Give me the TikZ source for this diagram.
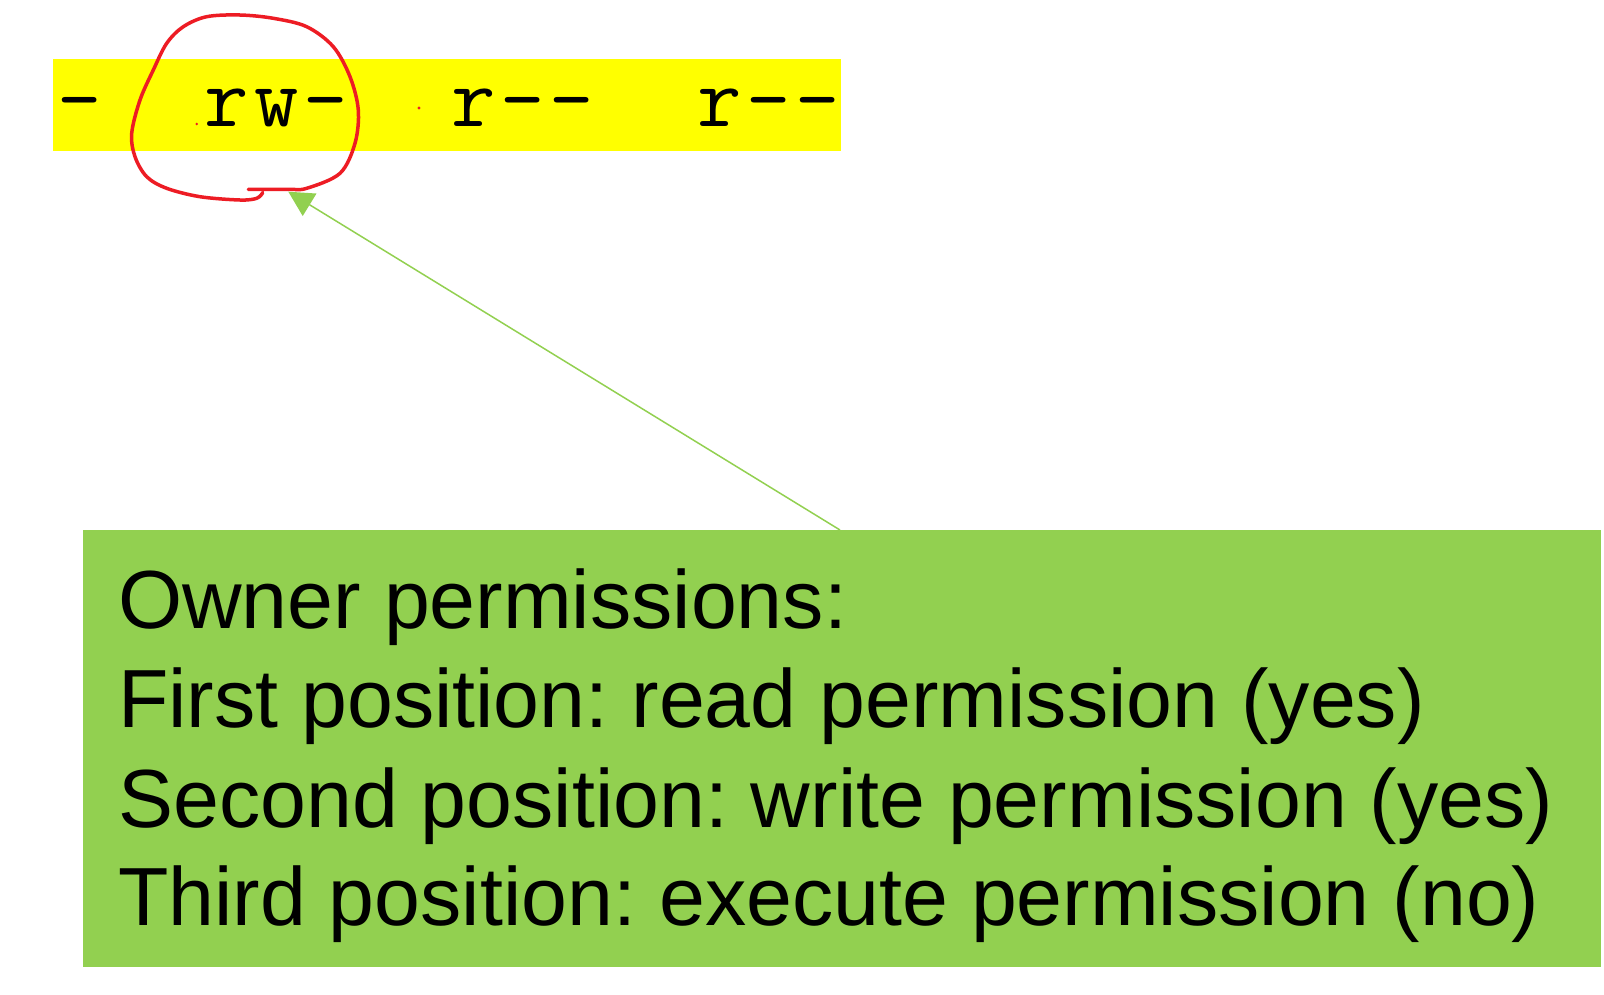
\documentclass[tikz,border=0pt]{standalone}
\usepackage{fontspec}
\setmainfont{Liberation Sans}
\usetikzlibrary{arrows.meta}
\definecolor{okgreen}{RGB}{146,208,80}
\definecolor{hlyellow}{RGB}{255,255,0}
\definecolor{penred}{RGB}{237,28,36}
\newcommand\pcell[1]{\makebox[49.25pt][l]{\hspace{4pt}#1}}
\tikzset{
  yellowbar/.style={fill=hlyellow, draw=none, inner sep=0pt, anchor=north west},
  greenbox/.style={fill=okgreen, draw=none, inner sep=0pt, anchor=north west},
  monotext/.style={inner sep=0pt, anchor=base west, font=\ttfamily\fontsize{86pt}{90pt}\selectfont},
  boxtext/.style={inner sep=0pt, anchor=base west, font=\frenchspacing\fontsize{82.5pt}{99pt}\selectfont},
  pointer/.style={draw=okgreen, line width=1.5pt, -{Triangle[length=25pt, width=26pt]}},
  penstroke/.style={draw=penred, line width=3.5pt, line cap=round, line join=round},
  pendot/.style={fill=penred}
}
\begin{document}
\begin{tikzpicture}[x=1pt, y=-1pt]
\useasboundingbox (0,0) rectangle (1604,994);
% permission string
\node[yellowbar, minimum width=788pt, minimum height=92pt] (bar) at (53,59) {};
\node[monotext] (perm) at (53,126) {\pcell{-}\pcell{}\pcell{}\pcell{r}\pcell{w}\pcell{-}\pcell{}\pcell{}\pcell{r}\pcell{-}\pcell{-}\pcell{}\pcell{}\pcell{r}\pcell{-}\pcell{-}};
% explanation box
\node[greenbox, minimum width=1518pt, minimum height=437pt] (box) at (83,530) {};
\node[boxtext] (l1) at (118,628) {Owner permissions:};
\node[boxtext] (l2) at (118,727) {First position: read permission (yes)};
\node[boxtext] (l3) at (118,827) {Second position: write permission (yes)};
\node[boxtext] (l4) at (118,925) {Third position: execute permission (no)};
% connector
\coordinate (astart) at (840,530);
\coordinate (atip) at (288.3,191.7);
\draw[pointer] (astart) -- (atip);
% red hand-drawn loop
\draw[penstroke] plot[smooth, tension=0.55] coordinates {
  (248.3,189.3) (288.3,189.3) (306.7,188.3) (340,173.3) (355,143.3) (358.3,110)
  (350,76.7) (333.3,46.7) (306.7,26.7) (273.3,18.3) (240,15) (206.7,16.7)
  (183.3,26.7) (166.7,43.3) (153.3,70) (140,100) (131.7,133.3) (135,156.7)
  (146.7,176.7) (166.7,188.3) (200,196.7) (240,200) (256.7,198.3) (262.7,192.7)};
\fill[pendot] (196.7,124) circle (1.4pt);
\fill[pendot] (419,108) circle (1.7pt);
\end{tikzpicture}
\end{document}
